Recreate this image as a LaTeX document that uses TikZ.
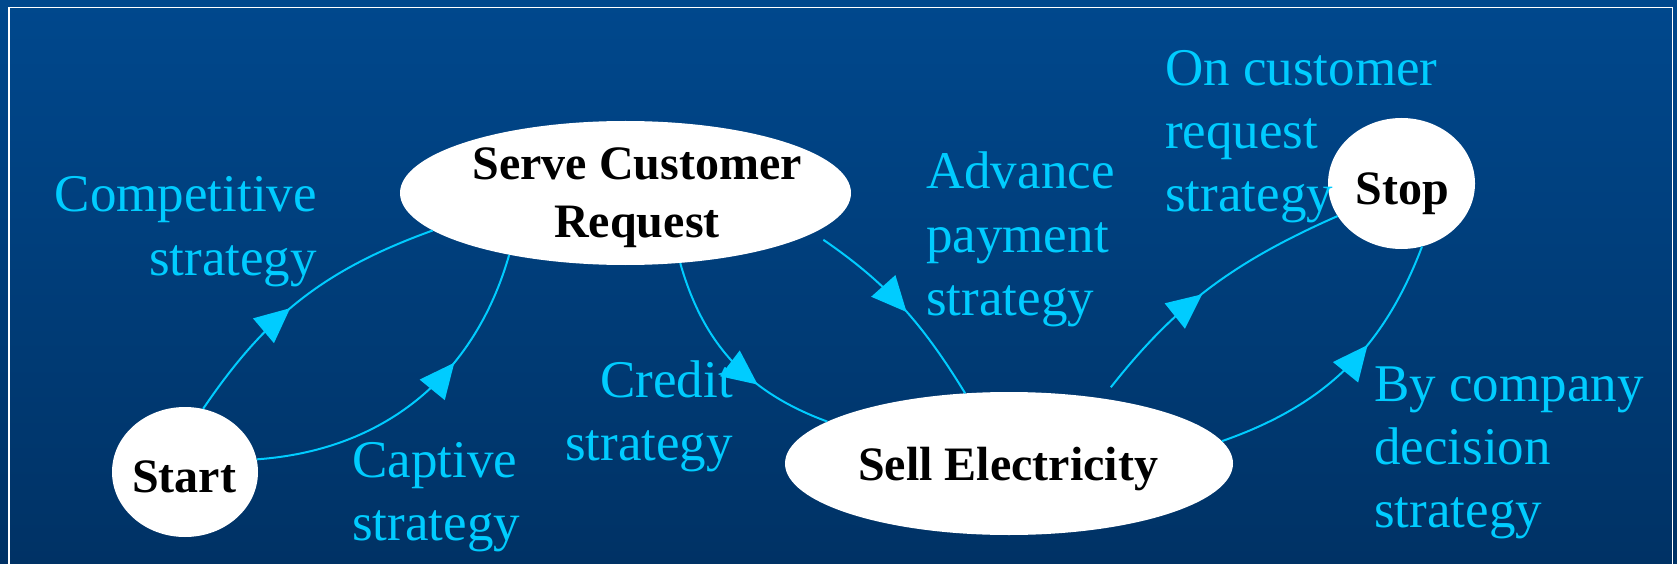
\documentclass[tikz,border=0pt]{standalone}
\usepackage{fontspec}
\setmainfont{Liberation Serif}
\usetikzlibrary{arrows.meta,decorations.markings,shapes.geometric}
\definecolor{lc}{RGB}{0,204,255}
\definecolor{bgtop}{RGB}{0,72,141}
\definecolor{bgbot}{RGB}{0,50,101}
\tikzset{
  state/.style={ellipse, fill=white, inner sep=0pt, draw=none},
  stxt/.style={font=\fontsize{48}{57}\selectfont\bfseries, text=black, inner sep=0pt},
  lbl/.style={font=\fontsize{53}{63}\selectfont, text=lc, inner sep=0pt},
  flow/.style={draw=lc, line width=2pt, postaction={decorate},
    decoration={markings, mark=at position #1 with {\arrow[lc]{Triangle[length=35pt,width=32pt]}}}},
}
\begin{document}
\begin{tikzpicture}[x=1pt,y=1pt]
\useasboundingbox (0,0) rectangle (1677,563);
\clip (0,0) rectangle (1677,563);
\shade[top color=bgtop, bottom color=bgbot] (0,0) rectangle (1677,563);
\draw[white, line width=1.8pt] (9,-20) -- (9,555.5) -- (1672.5,555.5) -- (1672.5,-20);

% state shapes
\node[state, minimum width=146pt, minimum height=130pt] (start) at (185,91) {};
\node[state, minimum width=451pt, minimum height=144pt] (serve) at (625.5,370) {};
\node[state, minimum width=448pt, minimum height=143pt] (sell) at (1009,99.5) {};
\node[state, minimum width=147pt, minimum height=131pt] (stop) at (1401.5,379.5) {};

% state texts (base = baseline of the last line)
\node[stxt, anchor=base] (startt) at (184,71) {Start};
\node[stxt, anchor=base, align=center] (servet) at (637,326) {Serve Customer\\Request};
\node[stxt, anchor=base] (sellt) at (1008,83) {Sell Electricity};
\node[stxt, anchor=base] (stopt) at (1402,358) {Stop};

% connectors
\draw[flow=0.45] (start.74) to[bend left=18] (serve.191);
\draw[flow=0.65] (start.10) to[bend right=35] (serve.208.6);
\draw[flow=0.65] (serve.308) to[bend right=27] (sell.167.3);
\draw[flow=0.55, shorten <=12pt] (serve.348) to[bend left=12] (sell.122);
\draw[flow=0.48, shorten <=14pt] (sell.35) to[bend left=14] (stop.207.4);
\draw[flow=0.61] (sell.6.9) to[bend right=25] (stop.288);

% labels (base = baseline of the last line)
\node[lbl, align=right, anchor=base east] (lcomp) at (317,288) {Competitive\\strategy};
\node[lbl, align=left, anchor=base west] (lcapt) at (352,23) {Captive\\strategy};
\node[lbl, align=right, anchor=base east] (lcred) at (733,103) {Credit\\strategy};
\node[lbl, align=left, anchor=base west] (ladv) at (926,248) {Advance\\payment\\strategy};
\node[lbl, align=left, anchor=base west] (lon) at (1165,351) {On customer\\request\\strategy};
\node[lbl, align=left, anchor=base west] (lby) at (1374,36) {By company\\decision\\strategy};
\end{tikzpicture}
\end{document}
